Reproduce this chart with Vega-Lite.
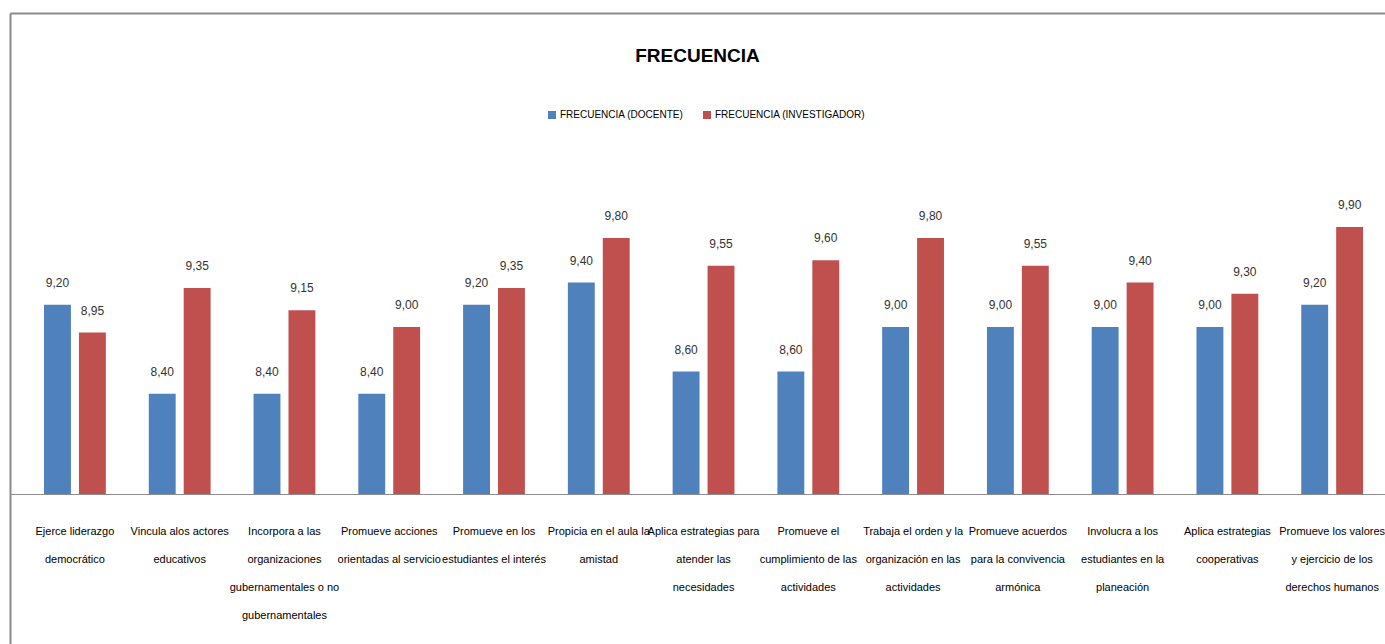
{
  "$schema": "https://vega.github.io/schema/vega-lite/v6.json",
  "autosize": {"type": "none"},
  "padding": {"left": 10, "top": 13, "right": 0, "bottom": 0},
  "width": 1375,
  "height": 631,
  "background": "white",
  "config": {
    "locale": {"number": {"decimal": ",", "thousands": ".", "grouping": [3], "currency": ["", " €"]}},
    "view": {"stroke": null},
    "font": "Liberation Sans, Arial, sans-serif"
  },
  "title": {
    "text": "FRECUENCIA",
    "fontSize": 19,
    "fontWeight": "bold",
    "font": "Liberation Sans, Arial, sans-serif",
    "anchor": "middle",
    "baseline": "alphabetic",
    "offset": -68,
    "color": "#000000"
  },
  "data": {
    "values": [
      {"categoria": "Ejerce liderazgo|democrático", "serie": "FRECUENCIA (DOCENTE)", "valor": 9.20},
      {"categoria": "Ejerce liderazgo|democrático", "serie": "FRECUENCIA (INVESTIGADOR)", "valor": 8.95},
      {"categoria": "Vincula alos actores|educativos", "serie": "FRECUENCIA (DOCENTE)", "valor": 8.40},
      {"categoria": "Vincula alos actores|educativos", "serie": "FRECUENCIA (INVESTIGADOR)", "valor": 9.35},
      {"categoria": "Incorpora a las|organizaciones|gubernamentales o no|gubernamentales", "serie": "FRECUENCIA (DOCENTE)", "valor": 8.40},
      {"categoria": "Incorpora a las|organizaciones|gubernamentales o no|gubernamentales", "serie": "FRECUENCIA (INVESTIGADOR)", "valor": 9.15},
      {"categoria": "Promueve acciones|orientadas al servicio", "serie": "FRECUENCIA (DOCENTE)", "valor": 8.40},
      {"categoria": "Promueve acciones|orientadas al servicio", "serie": "FRECUENCIA (INVESTIGADOR)", "valor": 9.00},
      {"categoria": "Promueve en los|estudiantes el interés", "serie": "FRECUENCIA (DOCENTE)", "valor": 9.20},
      {"categoria": "Promueve en los|estudiantes el interés", "serie": "FRECUENCIA (INVESTIGADOR)", "valor": 9.35},
      {"categoria": "Propicia en el aula la|amistad", "serie": "FRECUENCIA (DOCENTE)", "valor": 9.40},
      {"categoria": "Propicia en el aula la|amistad", "serie": "FRECUENCIA (INVESTIGADOR)", "valor": 9.80},
      {"categoria": "Aplica estrategias para|atender las|necesidades", "serie": "FRECUENCIA (DOCENTE)", "valor": 8.60},
      {"categoria": "Aplica estrategias para|atender las|necesidades", "serie": "FRECUENCIA (INVESTIGADOR)", "valor": 9.55},
      {"categoria": "Promueve el|cumplimiento de las|actividades", "serie": "FRECUENCIA (DOCENTE)", "valor": 8.60},
      {"categoria": "Promueve el|cumplimiento de las|actividades", "serie": "FRECUENCIA (INVESTIGADOR)", "valor": 9.60},
      {"categoria": "Trabaja el orden y la|organización en las|actividades", "serie": "FRECUENCIA (DOCENTE)", "valor": 9.00},
      {"categoria": "Trabaja el orden y la|organización en las|actividades", "serie": "FRECUENCIA (INVESTIGADOR)", "valor": 9.80},
      {"categoria": "Promueve acuerdos|para la convivencia|armónica", "serie": "FRECUENCIA (DOCENTE)", "valor": 9.00},
      {"categoria": "Promueve acuerdos|para la convivencia|armónica", "serie": "FRECUENCIA (INVESTIGADOR)", "valor": 9.55},
      {"categoria": "Involucra a los|estudiantes en la|planeación", "serie": "FRECUENCIA (DOCENTE)", "valor": 9.00},
      {"categoria": "Involucra a los|estudiantes en la|planeación", "serie": "FRECUENCIA (INVESTIGADOR)", "valor": 9.40},
      {"categoria": "Aplica estrategias|cooperativas", "serie": "FRECUENCIA (DOCENTE)", "valor": 9.00},
      {"categoria": "Aplica estrategias|cooperativas", "serie": "FRECUENCIA (INVESTIGADOR)", "valor": 9.30},
      {"categoria": "Promueve los valores|y ejercicio de los|derechos humanos", "serie": "FRECUENCIA (DOCENTE)", "valor": 9.20},
      {"categoria": "Promueve los valores|y ejercicio de los|derechos humanos", "serie": "FRECUENCIA (INVESTIGADOR)", "valor": 9.90}
    ]
  },
  "encoding": {
    "xOffset": {"field": "serie", "type": "nominal", "sort": null, "scale": {"paddingInner": 0.23, "paddingOuter": 0}},
    "y": {
      "field": "valor",
      "type": "quantitative",
      "scale": {"domain": [6.152, 11.822], "nice": false, "zero": false},
      "axis": {"title": null, "labels": false, "ticks": false, "grid": false, "domainColor": "#8a8a8a", "domainWidth": 2}
    }
  },
  "layer": [
    {
      "mark": {"type": "bar"},
      "encoding": {
        "x": {
          "field": "categoria",
          "type": "nominal",
          "sort": null,
          "scale": {"paddingInner": 0.41, "paddingOuter": 0.267, "align": 0.608},
          "axis": {
            "orient": "bottom",
            "offset": -150,
            "title": null,
            "ticks": false,
            "grid": false,
            "domainColor": "#8c8c8c",
            "domainWidth": 1,
            "labelAngle": 0,
            "labelExpr": "split(datum.value, '|')",
            "labelFontSize": 11,
            "labelLineHeight": 28,
            "labelBaseline": "top",
            "labelPadding": 31,
            "labelColor": "#000000",
            "labelLimit": 0
          }
        },
        "y2": {"datum": 7.5},
        "color": {
          "field": "serie",
          "type": "nominal",
          "sort": null,
          "scale": {"domain": ["FRECUENCIA (DOCENTE)", "FRECUENCIA (INVESTIGADOR)"], "range": ["#4F81BD", "#C0504D"]},
          "legend": {
            "title": null,
            "orient": "none",
            "direction": "horizontal",
            "legendX": 537,
            "legendY": 97,
            "padding": 0,
            "symbolType": "square",
            "symbolSize": 64,
            "symbolStrokeWidth": 0,
            "labelFontSize": 10,
            "labelColor": "#000000",
            "labelLimit": 0,
            "columnPadding": 18,
            "labelOffset": 3
          }
        }
      }
    },
    {
      "mark": {"type": "text", "baseline": "middle", "dy": -22, "fontSize": 12, "color": "#333333"},
      "encoding": {
        "x": {
          "field": "categoria",
          "type": "nominal",
          "sort": null,
          "axis": {"orient": "top", "title": null, "labels": false, "ticks": false, "grid": false, "domainColor": "#8a8a8a", "domainWidth": 2}
        },
        "text": {"field": "valor", "type": "quantitative", "format": ".2f"}
      }
    }
  ],
  "resolve": {"axis": {"x": "independent"}}
}
